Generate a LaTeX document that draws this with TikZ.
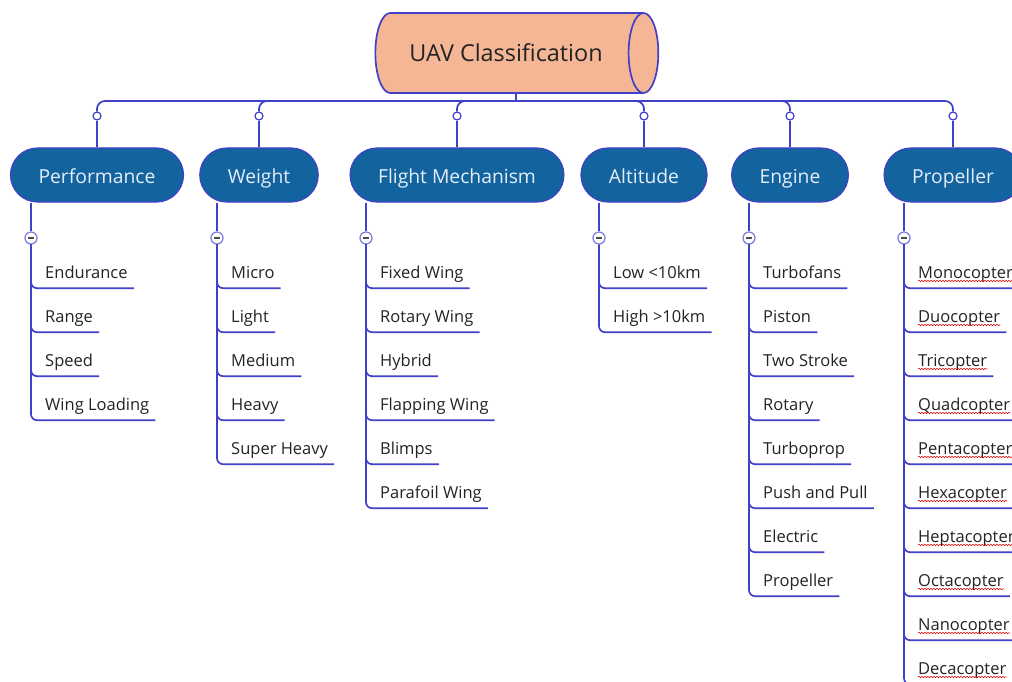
\documentclass[tikz,border=0pt]{standalone}
\usepackage{fontspec}
\setmainfont{Open Sans}
\usetikzlibrary{positioning,shapes.geometric,decorations.pathmorphing}
\definecolor{linkblue}{RGB}{64,64,200}
\definecolor{catfill}{RGB}{19,99,158}
\definecolor{rootfill}{RGB}{245,182,150}
\definecolor{ink}{RGB}{35,35,35}
\definecolor{pale}{RGB}{228,238,248}

\begin{document}
\begin{tikzpicture}[x=1pt,y=-1pt,
  link/.style={draw=linkblue,line width=1.7pt},
  rootbox/.style={cylinder,draw=linkblue,line width=1.7pt,fill=rootfill,aspect=1.2,
    minimum width=80pt,minimum height=283pt,font=\fontsize{23.4}{28}\selectfont,text=ink},
  catbox/.style={draw=linkblue,line width=1.2pt,fill=catfill,rounded corners=27pt,
    minimum height=54pt,inner xsep=28pt,text height=16pt,text depth=0pt,
    font=\fontsize{19.3}{23}\selectfont,text=pale},
  knob/.style={circle,draw=linkblue,line width=1.2pt,fill=white,minimum size=8pt,inner sep=0pt},
  fold/.style={circle,draw=linkblue!70,line width=1.2pt,fill=white,minimum size=12pt,inner sep=0pt},
  leaf/.style={anchor=west,inner xsep=6pt,inner ysep=0pt,minimum height=32pt,
    text height=14pt,text depth=2pt,font=\fontsize{16.5}{20}\selectfont,text=ink},
  spell/.style={draw=red!85!black,line width=.6pt,decorate,
    decoration={snake,amplitude=.7pt,segment length=3pt}}]
\useasboundingbox (0,0) rectangle (1012,682);

% root and bus
\node[rootbox] (uav) at (506,53) {UAV Classification};
\coordinate (hub) at (516,101);
\draw[link] (hub |- uav.south) -- (hub);

% categories with their leaves
\foreach \nm/\cx/\vx/\lbl/\items in {
  perf/97/31/Performance/{Endurance,Range,Speed,Wing Loading},
  wgt/259/217/Weight/{Micro,Light,Medium,Heavy,Super Heavy},
  flm/457/366/Flight Mechanism/{Fixed Wing,Rotary Wing,Hybrid,Flapping Wing,Blimps,Parafoil Wing},
  alt/644/599/Altitude/{Low <10km,High >10km},
  eng/790/749/Engine/{Turbofans,Piston,Two Stroke,Rotary,Turboprop,Push and Pull,Electric,Propeller},
  prop/953/904/Propeller/{Monocopter,Duocopter,Tricopter,Quadcopter,Pentacopter,Hexacopter,Heptacopter,Octacopter,Nanocopter,Decacopter}}
{
  \node[catbox] (\nm) at (\cx,175) {\lbl};
  \node[knob] (\nm-k) at (\cx,116) {};
  \draw[link,rounded corners=8pt] (hub) -| (\nm-k);
  \draw[link] (\nm-k) -- (\nm);
  \node[fold] (\nm-m) at (\vx,238) {\color{gray!60!black}\rule[-.7pt]{5.5pt}{1.4pt}};
  \draw[link] (\nm.south -| \nm-m) -- (\nm-m);
  \foreach \it [count=\i] in \items {
    \node[leaf] (\nm-\i) at (\vx+8,228+44*\i) {\it};
    \draw[link,rounded corners=6pt] (\nm-m) |- (\nm-\i.south east);
  }
}

% spell-check marks under the rotor names
\foreach \i in {1,...,10}
  \draw[spell] ([xshift=6pt,yshift=-3pt]prop-\i.base west) -- ([xshift=-6pt,yshift=-3pt]prop-\i.base east);
\end{tikzpicture}
\end{document}
